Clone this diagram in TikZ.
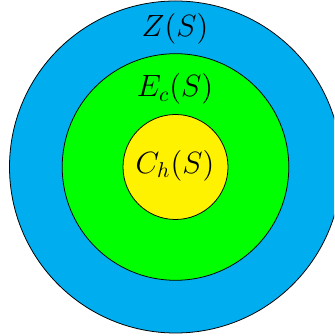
\documentclass[tikz,border=0pt]{standalone}
\usepackage{amssymb}
\usepackage{mathtools}
\definecolor{bleuZ}{RGB}{0,173,239}
\definecolor{vertE}{RGB}{0,255,0}
\definecolor{jauneC}{RGB}{255,242,0}

\begin{document}
\begin{tikzpicture}[x=0.515pt, y=0.515pt]
				\useasboundingbox (0,0) rectangle (334,336);
				\clip (0,0) rectangle (334,336);
				% dessin des disques
				\filldraw[fill=bleuZ, draw=black] (175.5,169) circle (166);
				\filldraw[fill=vertE, draw=black] (175.5,169) circle (113.3);
				\filldraw[fill=jauneC, draw=black] (175.5,169) circle (52.5);
				% noms des ensembles
				\node[anchor=base, scale=1.1] (zs) at (175,299.3) {\Large{$Z(S)$}};
				\node[anchor=base, scale=1.1] (ecs) at (175,239.3) {\Large{$E_c(S)$}};
				\node[anchor=base, scale=1.1] (chs) at (175,162.7) {\Large{$C_h(S)$}};
		\end{tikzpicture}
\end{document}
